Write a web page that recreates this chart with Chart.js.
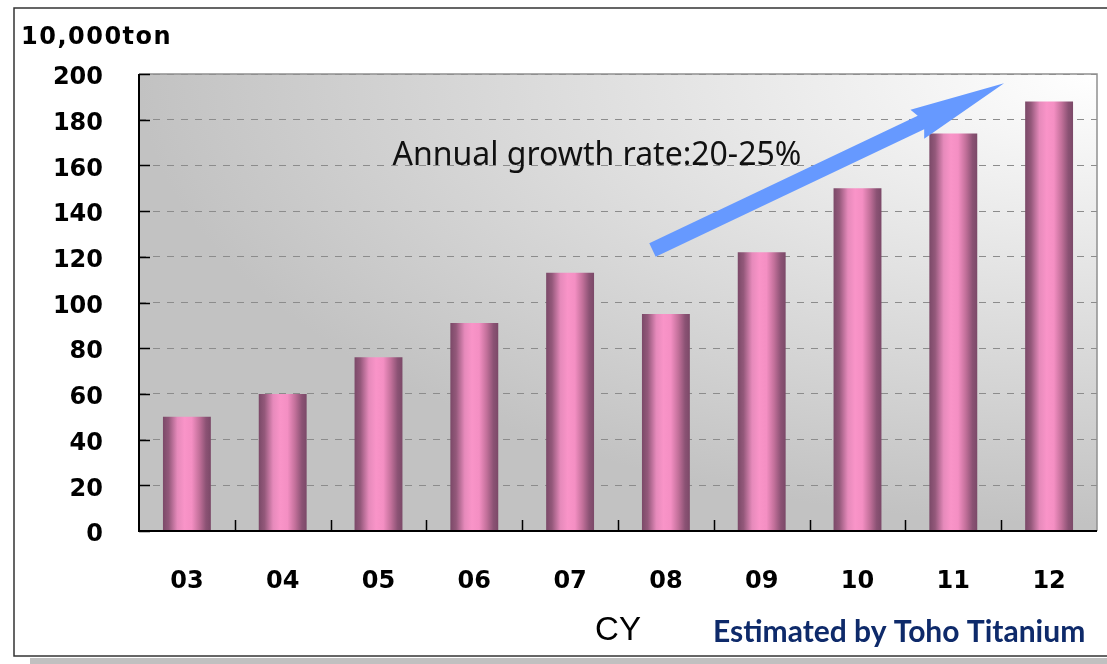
<!DOCTYPE html>
<html>
<head>
<meta charset="utf-8">
<script src="https://cdn.jsdelivr.net/npm/chart.js@4.4.1/dist/chart.umd.min.js"></script>
<style>
  html, body { margin: 0; padding: 0; background: #fff; }
  #chart { display: block; }
</style>
</head>
<body>
<canvas id="chart" width="1107" height="664"></canvas>
<script>
// ---------- data ----------
var years = ['03', '04', '05', '06', '07', '08', '09', '10', '11', '12'];
var demand = [50, 60, 76, 91, 113, 95, 122, 150, 174, 188];
var yMin = 0, yMax = 200, yStep = 20;
var unitLabel = '10,000ton';
var xTitle = 'CY';
var sourceNote = 'Estimated by Toho Titanium';
var growthNote = 'Annual growth rate:20-25%';
// annotation anchors in data units: [category index, value]
var arrowFrom = [4.86, 123];
var arrowTo = [8.53, 196];
var growthNoteAt = [4.28, 164];

// bar shading, dark edges and a pink highlight
function barFill(c) {
    var chart = c.chart;
    if (!chart.chartArea) return '#f994c8';
    var xs = chart.scales.x;
    var cx = xs.getPixelForValue(c.dataIndex);
    var w = xs.width / years.length * 0.5;
    var g = chart.ctx.createLinearGradient(cx - w / 2, 0, cx + w / 2, 0);
    g.addColorStop(0, '#7b4968');
    g.addColorStop(0.12, '#93587a');
    g.addColorStop(0.3, '#e68abb');
    g.addColorStop(0.45, '#f994c8');
    g.addColorStop(0.6, '#f48fc3');
    g.addColorStop(0.76, '#c2709a');
    g.addColorStop(0.9, '#8b5274');
    g.addColorStop(1, '#7b4968');
    return g;
}

var framePlugin = {
    id: 'frame',
    beforeDraw: function(chart) {
        var ctx = chart.ctx, a = chart.chartArea;
        ctx.save();
        ctx.fillStyle = '#fff';
        ctx.fillRect(0, 0, chart.width, chart.height);
        // shadow of the outer box
        ctx.fillStyle = '#c0c0c0';
        ctx.fillRect(30, 658, chart.width - 30, chart.height - 658);
        ctx.strokeStyle = '#333';
        ctx.lineWidth = 1.5;
        ctx.strokeRect(14, 8, chart.width + 10, 648);

        // plot background, light toward the top right corner
        ctx.beginPath();
        ctx.rect(a.left, a.top, a.width, a.height);
        ctx.clip();
        ctx.translate(a.right, a.top);
        ctx.scale(1, 0.47);
        var g = ctx.createRadialGradient(0, 0, 0, 0, 0, a.width);
        g.addColorStop(0, '#ffffff');
        g.addColorStop(1, '#c2c2c2');
        ctx.fillStyle = g;
        ctx.fillRect(-a.width - 5, -10, a.width + 10, a.height / 0.47 + 20);
        ctx.restore();
    },
    afterDatasetsDraw: function(chart) {
        var ctx = chart.ctx, a = chart.chartArea;
        var xs = chart.scales.x, ys = chart.scales.y;
        ctx.save();
        // top and right edges
        ctx.strokeStyle = '#909090';
        ctx.lineWidth = 1.5;
        ctx.beginPath();
        ctx.moveTo(a.left, a.top);
        ctx.lineTo(a.right, a.top);
        ctx.lineTo(a.right, a.bottom);
        ctx.stroke();
        // axes
        ctx.strokeStyle = '#000';
        ctx.lineWidth = 2;
        ctx.beginPath();
        ctx.moveTo(a.left, a.top);
        ctx.lineTo(a.left, a.bottom);
        ctx.lineTo(a.right, a.bottom);
        ctx.stroke();
        // inner tick marks
        ctx.lineWidth = 1.5;
        ctx.beginPath();
        ys.ticks.forEach(function(t) {
            var y = Math.round(ys.getPixelForValue(t.value)) + 0.5;
            ctx.moveTo(a.left, y);
            ctx.lineTo(a.left + 11, y);
        });
        var step = xs.width / years.length;
        for (var i = 1; i < years.length; i++) {
            var x = Math.round(a.left + step * i) + 0.5;
            ctx.moveTo(x, a.bottom);
            ctx.lineTo(x, a.bottom - 11);
        }
        ctx.stroke();
        ctx.restore();
    },
    afterDraw: function(chart) {
        var ctx = chart.ctx, a = chart.chartArea;
        var xs = chart.scales.x, ys = chart.scales.y;
        ctx.save();
        // unit label
        ctx.fillStyle = '#000';
        ctx.font = 'bold 24px "DejaVu Sans"';
        ctx.letterSpacing = '1.5px';
        ctx.textAlign = 'left';
        ctx.textBaseline = 'middle';
        ctx.fillText(unitLabel, 21, 38);
        ctx.letterSpacing = '0px';

        // growth arrow
        var x0 = xs.getPixelForValue(arrowFrom[0]), y0 = ys.getPixelForValue(arrowFrom[1]);
        var x1 = xs.getPixelForValue(arrowTo[0]), y1 = ys.getPixelForValue(arrowTo[1]);
        var ang = Math.atan2(y1 - y0, x1 - x0);
        var len = Math.hypot(x1 - x0, y1 - y0);
        ctx.translate(x0, y0);
        ctx.rotate(ang);
        ctx.fillStyle = '#6699ff';
        ctx.beginPath();
        ctx.moveTo(0, -7.5);
        ctx.lineTo(len - 92, -7.5);
        ctx.lineTo(len - 96, -16);
        ctx.lineTo(len, 0);
        ctx.lineTo(len - 96, 16);
        ctx.lineTo(len - 92, 7.5);
        ctx.lineTo(0, 7.5);
        ctx.closePath();
        ctx.fill();
        ctx.setTransform(1, 0, 0, 1, 0, 0);

        ctx.fillStyle = '#111';
        ctx.font = '32px "Noto Sans"';
        ctx.textAlign = 'center';
        ctx.fillText(growthNote, xs.getPixelForValue(growthNoteAt[0]), ys.getPixelForValue(growthNoteAt[1]));

        ctx.fillStyle = '#0e2a6a';
        ctx.font = 'bold 30px Lato';
        ctx.textAlign = 'left';
        ctx.fillText(sourceNote, 713, 632);
        ctx.restore();
    }
};

new Chart(document.getElementById('chart'), {
    type: 'bar',
    data: {
        labels: years,
        datasets: [{
            label: 'Demand',
            data: demand,
            backgroundColor: barFill,
            borderWidth: 0,
            categoryPercentage: 1,
            barPercentage: 0.5
        }]
    },
    options: {
        responsive: false,
        animation: false,
        layout: { padding: { left: 0, right: 10, top: 74, bottom: 0 } },
        plugins: { legend: { display: false }, tooltip: { enabled: false } },
        scales: {
            x: {
                grid: { display: false, drawTicks: false },
                border: { display: false },
                ticks: {
                    color: '#000',
                    padding: 36,
                    font: { family: 'DejaVu Sans', weight: 'bold', size: 24 }
                },
                title: {
                    display: true,
                    text: xTitle,
                    color: '#000',
                    padding: { top: 0, bottom: 13 },
                    font: { family: 'Liberation Sans', size: 33 }
                },
                afterFit: function(s) { s.height = 664 - 531; }
            },
            y: {
                min: yMin,
                max: yMax,
                grid: { color: '#8c8c8c', lineWidth: 1, drawTicks: false },
                border: { display: false, dash: [7, 7] },
                ticks: {
                    stepSize: yStep,
                    color: '#000',
                    padding: 36,
                    labelOffset: 4,
                    font: { family: 'DejaVu Sans', weight: 'bold', size: 24 }
                },
                afterFit: function(s) { s.width = 139; }
            }
        }
    },
    plugins: [framePlugin]
});
</script>
</body>
</html>
